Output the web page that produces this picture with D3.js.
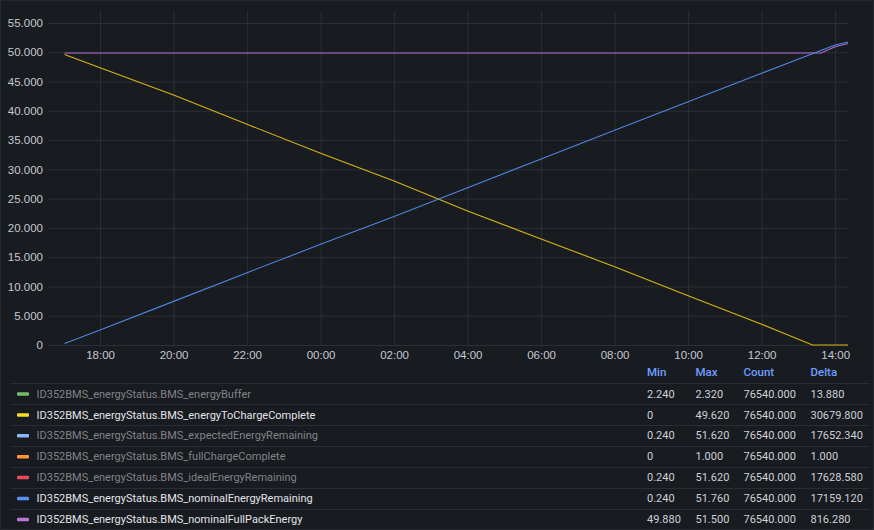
<!DOCTYPE html>
<html>
<head>
<meta charset="utf-8">
<script src="https://cdn.jsdelivr.net/npm/d3@7"></script>
<style>
  html, body { margin: 0; padding: 0; background: #181b1f; }
  svg { display: block; font-family: Roboto, "Noto Sans", sans-serif; }
</style>
</head>
<body>
<svg id="chart" width="874" height="530"></svg>
<script>
// ---------- DATA ----------
const yTicks = [0, 5, 10, 15, 20, 25, 30, 35, 40, 45, 50, 55];
const timeRange = ["2023-01-01T16:35", "2023-01-02T14:21"];

const toChargeTimes = ["2023-01-01T17:02","2023-01-01T18:00","2023-01-01T20:00","2023-01-01T22:00","2023-01-02T00:00","2023-01-02T02:00","2023-01-02T04:00","2023-01-02T06:00","2023-01-02T08:00","2023-01-02T10:00","2023-01-02T12:00","2023-01-02T13:23","2023-01-02T14:21"];
const toChargeValues = [49.62, 47.35, 42.71, 37.7, 32.75, 28.0, 22.89, 18.1, 13.38, 8.4, 3.54, 0, 0];

const nominalRemTimes = ["2023-01-01T17:02","2023-01-01T18:00","2023-01-01T20:00","2023-01-01T22:00","2023-01-02T00:00","2023-01-02T02:00","2023-01-02T04:00","2023-01-02T06:00","2023-01-02T08:00","2023-01-02T10:00","2023-01-02T12:00","2023-01-02T14:00","2023-01-02T14:21"];
const nominalRemValues = [0.24, 2.56, 7.45, 12.35, 17.2, 21.95, 26.87, 31.77, 36.7, 41.56, 46.41, 51.25, 51.76];

const fullPackTimes = ["2023-01-01T17:02","2023-01-02T13:37","2023-01-02T14:00","2023-01-02T14:21"];
const fullPackValues = [49.88, 49.88, 50.96, 51.5];

const legendNames = [
  "ID352BMS_energyStatus.BMS_energyBuffer",
  "ID352BMS_energyStatus.BMS_energyToChargeComplete",
  "ID352BMS_energyStatus.BMS_expectedEnergyRemaining",
  "ID352BMS_energyStatus.BMS_fullChargeComplete",
  "ID352BMS_energyStatus.BMS_idealEnergyRemaining",
  "ID352BMS_energyStatus.BMS_nominalEnergyRemaining",
  "ID352BMS_energyStatus.BMS_nominalFullPackEnergy"
];
const legendColors = ["#73bf69", "#fade2a", "#8ab8ff", "#ff9830", "#f2495c", "#5794f2", "#b877d9"];
const legendVisible = [false, true, false, false, false, true, true];
const legendHeaders = ["Min", "Max", "Count", "Delta"];
const legendMin = ["2.240", "0", "0.240", "0", "0.240", "0.240", "49.880"];
const legendMax = ["2.320", "49.620", "51.620", "1.000", "51.620", "51.760", "51.500"];
const legendCount = ["76540.000", "76540.000", "76540.000", "76540.000", "76540.000", "76540.000", "76540.000"];
const legendDelta = ["13.880", "30679.800", "17652.340", "1.000", "17628.580", "17159.120", "816.280"];

// ---------- CHART ----------
const svg = d3.select("#chart");
const W = 874, H = 530;
const parse = d3.timeParse("%Y-%m-%dT%H:%M");
const plot = { left: 48, right: 848, top: 11, bottom: 345 };
const FS = 11;

svg.append("rect").attr("x", 0.5).attr("y", 0.5).attr("width", W - 1).attr("height", H - 1)
  .attr("fill", "#181b1f").attr("stroke", "#25282d");

const x = d3.scaleTime().domain(timeRange.map(parse)).range([plot.left, plot.right]);
const y = d3.scaleLinear().domain([0, 57.05]).range([plot.bottom, plot.top]);

const gridColor = "#2c2f34";
const textColor = "#c7c8d2";

// horizontal grid + y labels
const yAxis = d3.axisLeft(y).tickValues(yTicks)
  .tickSize(plot.right - plot.left).tickPadding(5)
  .tickFormat(d => d === 0 ? "0" : d3.format(".3f")(d));
const gy = svg.append("g").attr("transform", `translate(${plot.right},0)`).call(yAxis);
gy.select(".domain").remove();
gy.selectAll("line").attr("stroke", gridColor);
gy.selectAll("text").attr("fill", textColor).attr("font-size", 11.5);

// vertical grid + x labels
const xTicks = d3.timeHour.every(2).range(x.domain()[0], x.domain()[1]);
const xAxis = d3.axisBottom(x).tickValues(xTicks)
  .tickSize(plot.bottom - plot.top).tickPadding(6)
  .tickFormat(d3.timeFormat("%H:%M"));
const gx = svg.append("g").attr("transform", `translate(0,${plot.top})`).call(xAxis);
gx.select(".domain").remove();
gx.selectAll("line").attr("stroke", gridColor);
gx.selectAll("text").attr("fill", textColor).attr("font-size", 11.5);

// lines
const line = d3.line().x(d => x(d[0])).y(d => y(d[1]));
function drawSeries(times, values, color) {
  const pts = times.map((t, i) => [parse(t), values[i]]);
  svg.append("path").datum(pts).attr("d", line)
    .attr("fill", "none").attr("stroke", color).attr("stroke-width", 1.1);
}
drawSeries(fullPackTimes, fullPackValues, "#b26fd4");
drawSeries(toChargeTimes, toChargeValues, "#d8b512");
drawSeries(nominalRemTimes, nominalRemValues, "#4f86e0");

// legend
const headerX = [647, 695.5, 743.5, 810.5];
const hdr = svg.append("g");
legendHeaders.forEach((h, i) => {
  hdr.append("text").attr("x", headerX[i]).attr("y", 372).attr("dy", "0.35em")
    .attr("fill", "#6e9fff").attr("font-size", 11.5).attr("font-weight", 500).text(h);
});
const rowTop = 383.3, rowH = 20.9;
const lg = svg.append("g");
legendNames.forEach((name, i) => {
  const top = rowTop + i * rowH;
  const cy = top + rowH / 2;
  lg.append("line").attr("x1", 10).attr("x2", 870).attr("y1", Math.round(top) + 0.5).attr("y2", Math.round(top) + 0.5)
    .attr("stroke", "#2a2d32");
  lg.append("rect").attr("x", 17).attr("y", cy - 1.5).attr("width", 12).attr("height", 3.5)
    .attr("rx", 1).attr("fill", legendColors[i]);
  lg.append("text").attr("x", 36.5).attr("y", cy).attr("dy", "0.35em").attr("font-size", FS)
    .attr("fill", legendVisible[i] ? "#e4e4ea" : "#828389").text(name);
  [legendMin[i], legendMax[i], legendCount[i], legendDelta[i]].forEach((v, j) => {
    lg.append("text").attr("x", headerX[j]).attr("y", cy).attr("dy", "0.35em").attr("font-size", FS)
      .attr("fill", "#cfd0d8").text(v);
  });
});
</script>
</body>
</html>
